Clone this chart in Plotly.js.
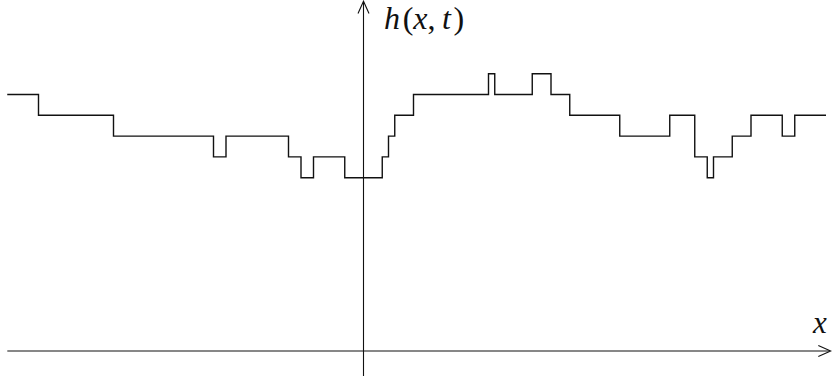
<!DOCTYPE html>
<html><head><meta charset="utf-8">
<script src="https://cdn.plot.ly/plotly-3.0.1.min.js"></script>
<style>html,body{margin:0;padding:0;background:#fff;overflow:hidden}</style>
</head><body><div id="chart" style="width:832px;height:376px"></div>
<script>
// Step positions (x, in grid units; y-axis at x = 0) and height levels of h(x,t)
const stepX = [-57,-52,-40,-24,-22,-12,-10,-8,-3,3,4,5,8,20,21,27,30,33,41,49,53,55,56,59,62,67,69,74];
const stepH = [5,4,3,2,3,2,1,2,1,2,3,4,5,6,5,6,5,4,3,4,2,1,2,3,4,3,4,4];
const yLabel = '<i>h</i>\u200A(<i>x</i>,\u2009<i>t</i>\u200A)';
const xLabel = '<i>x</i>';

const W = 832, H = 376;
const P = (px, py) => [px / W, 1 - py / H];
const line = (x0, y0, x1, y1, w) => {
  const a = P(x0, y0), b = P(x1, y1);
  return {type: 'line', xref: 'paper', yref: 'paper', x0: a[0], y0: a[1], x1: b[0], y1: b[1],
          line: {color: '#111', width: w}};
};
const path = (pts, w) => {
  const s = pts.map((p, i) => { const q = P(p[0], p[1]); return (i ? 'L' : 'M') + q[0] + ',' + q[1]; }).join(' ');
  return {type: 'path', xref: 'paper', yref: 'paper', path: s, line: {color: '#111', width: w}};
};

const trace = {
  x: stepX, y: stepH, type: 'scatter', mode: 'lines',
  line: {shape: 'hv', color: '#111', width: 1.4},
  hoverinfo: 'skip', showlegend: false
};

const layout = {
  width: W, height: H,
  margin: {l: 0, r: 0, t: 0, b: 0, pad: 0},
  paper_bgcolor: '#fff', plot_bgcolor: '#fff',
  xaxis: {range: [-58.16, 74.96], visible: false, fixedrange: true},
  yaxis: {range: [-8.534, 9.543], visible: false, fixedrange: true},
  shapes: [
    line(7.3, 351, 830, 351, 1.1),
    line(363.5, 376, 363.5, 1.5, 1.1),
    path([[818.3, 345.5], [830.7, 351], [818.3, 356.5]], 1.1),
    path([[358, 13.5], [363.5, 1.2], [369, 13.5]], 1.1)
  ],
  annotations: [
    {text: yLabel, xref: 'paper', yref: 'paper', x: P(382, 0)[0], y: P(0, 18)[1],
     xanchor: 'left', yanchor: 'middle', showarrow: false,
     font: {family: 'Liberation Serif', size: 32, color: '#111'}},
    {text: xLabel, xref: 'paper', yref: 'paper', x: P(819, 0)[0], y: P(0, 322)[1],
     xanchor: 'center', yanchor: 'middle', showarrow: false,
     font: {family: 'Liberation Serif', size: 31, color: '#111'}}
  ]
};

Plotly.newPlot('chart', [trace], layout, {staticPlot: true, displayModeBar: false});
</script>
</body></html>
